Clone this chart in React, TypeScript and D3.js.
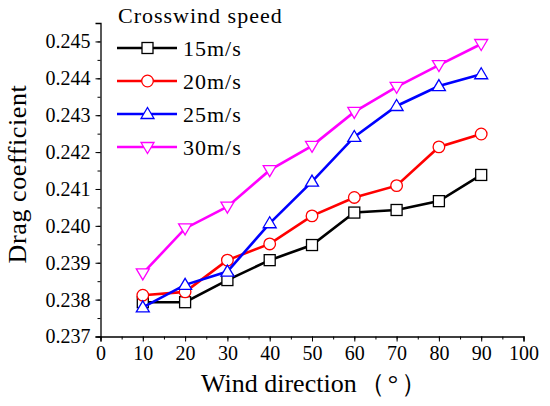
import React, { useEffect, useRef } from 'react';
import * as d3 from 'd3';

const directions = [10, 20, 30, 40, 50, 60, 70, 80, 90];
const speeds = ['15m/s', '20m/s', '25m/s', '30m/s'];
const drag15 = [0.23793, 0.23793, 0.23853, 0.23907, 0.23948, 0.24036, 0.24043, 0.24067, 0.24138];
const drag20 = [0.23812, 0.23821, 0.23907, 0.23951, 0.24027, 0.24077, 0.24109, 0.24214, 0.24249];
const drag25 = [0.23779, 0.2384, 0.23876, 0.24007, 0.2412, 0.24241, 0.24325, 0.24379, 0.24411];
const drag30 = [0.23871, 0.23993, 0.24052, 0.24151, 0.24217, 0.24309, 0.24377, 0.24436, 0.24493];
const xTicks = [0, 10, 20, 30, 40, 50, 60, 70, 80, 90, 100];
const yTicks = [0.237, 0.238, 0.239, 0.24, 0.241, 0.242, 0.243, 0.244, 0.245];

const colors = ['#000000', '#ff0000', '#0000ff', '#ff00ff'];
const shapes = ['square', 'circle', 'triangle', 'triangleDown'];
const allSeries = [drag15, drag20, drag25, drag30];

const W = 550;
const H = 406;
const left = 100.5;
const right = 523.5;
const bottom = 336.5;
const top = 23;
const FONT = 'Liberation Serif';

const Marker = ({ shape, x, y, color }: { shape: string; x: number; y: number; color: string }) => {
  if (shape === 'square') {
    return <rect x={x - 5.5} y={y - 5.5} width={11} height={11} fill="#fff" stroke={color} strokeWidth={1.3} />;
  }
  if (shape === 'circle') {
    return <circle cx={x} cy={y} r={5.8} fill="#fff" stroke={color} strokeWidth={1.3} />;
  }
  const pts = shape === 'triangle'
    ? [[x, y - 6.5], [x + 6.5, y + 4.5], [x - 6.5, y + 4.5]]
    : [[x, y + 6.5], [x + 6.5, y - 4.5], [x - 6.5, y - 4.5]];
  return <polygon points={pts.map((p) => p.join(',')).join(' ')} fill="#fff" stroke={color} strokeWidth={1.3} />;
};

export default function App() {
  const xAxisRef = useRef<SVGGElement>(null);
  const yAxisRef = useRef<SVGGElement>(null);

  const x = d3.scaleLinear().domain([0, 100]).range([left, right]);
  const y = d3.scaleLinear().domain([0.237, 0.2455]).range([bottom, top]);

  useEffect(() => {
    if (!xAxisRef.current || !yAxisRef.current) return;
    const gx = d3.select(xAxisRef.current);
    gx.selectAll('*').remove();
    // minor ticks every 5
    gx.call(d3.axisBottom(x).tickValues(d3.range(0, 101, 5)).tickSize(3).tickFormat(() => ''));
    gx.call((g) => g.select('.domain').remove());
    const gxMajor = gx.append('g');
    gxMajor.call(d3.axisBottom(x).tickValues(xTicks).tickSize(5).tickPadding(4).tickFormat(d3.format('d')));
    gxMajor.select('.domain').attr('stroke-width', 1.3);
    gxMajor.attr('font-family', FONT).attr('font-size', 20);
    gxMajor.selectAll('text').attr('fill', '#000').attr('font-family', FONT);

    const gy = d3.select(yAxisRef.current);
    gy.selectAll('*').remove();
    gy.call(d3.axisLeft(y).tickValues(d3.range(0, 17).map((i) => 0.237 + i * 0.0005)).tickSize(3).tickFormat(() => ''));
    gy.call((g) => g.select('.domain').remove());
    const gyMajor = gy.append('g');
    gyMajor.call(d3.axisLeft(y).tickValues(yTicks).tickSize(5).tickPadding(5).tickFormat(d3.format('.3f')));
    gyMajor.select('.domain').attr('stroke-width', 1.3);
    gyMajor.attr('font-family', FONT).attr('font-size', 20);
    gyMajor.selectAll('text').attr('fill', '#000').attr('font-family', FONT);
  }, []);

  const line = d3.line<number>().x((_, i) => x(directions[i])).y((d) => y(d));

  return (
    <svg width={W} height={H} style={{ position: 'absolute', left: 0, top: 0, background: '#fff' }}>
      <g ref={xAxisRef} transform={`translate(0,${bottom})`} />
      <g ref={yAxisRef} transform={`translate(${left},0)`} />

      {allSeries.map((vals, s) => (
        <g key={speeds[s]}>
          <path d={line(vals) ?? ''} fill="none" stroke={colors[s]} strokeWidth={2.6} />
          {vals.map((v, i) => (
            <Marker key={i} shape={shapes[s]} x={x(directions[i])} y={y(v)} color={colors[s]} />
          ))}
        </g>
      ))}

      {/* legend */}
      <text x={118} y={23} fontFamily={FONT} fontSize={22} letterSpacing={1} fill="#000">Crosswind speed</text>
      {speeds.map((label, s) => {
        const ly = 48 + s * 33;
        return (
          <g key={label}>
            <line x1={117} x2={177} y1={ly} y2={ly} stroke={colors[s]} strokeWidth={2.6} />
            <Marker shape={shapes[s]} x={147.5} y={ly} color={colors[s]} />
            <text x={183} y={ly + 8} fontFamily={FONT} fontSize={22} letterSpacing={1} fill="#000">{label}</text>
          </g>
        );
      })}

      <text x={201} y={392} fontFamily={FONT} fontSize={26} fill="#000">
        Wind direction<tspan dx={2} fontSize={26} letterSpacing={3}>（°）</tspan>
      </text>
      <text transform="translate(26,174) rotate(-90)" textAnchor="middle" fontFamily={FONT} fontSize={26} letterSpacing={0.6} fill="#000">Drag coefficient</text>
    </svg>
  );
}
